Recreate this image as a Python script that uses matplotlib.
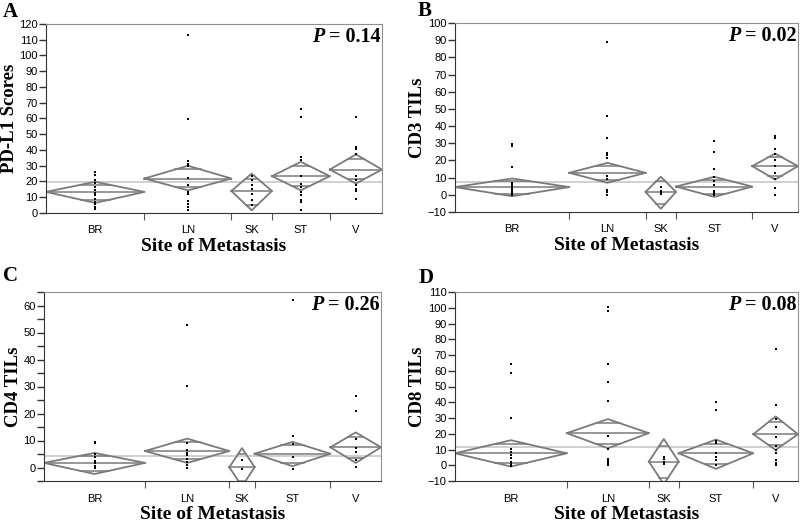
import numpy as np
import matplotlib.pyplot as plt
from matplotlib.ticker import MultipleLocator, FixedLocator

# sites of metastasis
sites = ["BR", "LN", "SK", "ST", "V"]

# ---- panel A: PD-L1 scores ----
pdl1_n = [17, 15, 7, 10, 9]
pdl1_points = [
    [26.1, 24.4, 20.8, 19.1, 16.6, 14.4, 12.7, 11.3, 9.1, 7.0, 5.5, 3.8, 2.3],
    [113.2, 59.7, 32.9, 31.4, 30.0, 22.5, 17.6, 13.4, 12.3, 7.4, 5.5, 3.8, 2.1],
    [23.6, 20.8, 17.6, 15.5, 12.3, 8.1, 5.3],
    [65.8, 61.2, 35.7, 33.6, 23.6, 18.7, 16.6, 13.4, 11.3, 8.5, 7.0, 2.1],
    [60.7, 42.0, 40.6, 37.2, 23.6, 20.8, 17.6, 15.5, 14.0, 8.7],
]
pdl1_mean = [13.4, 21.9, 14.0, 23.4, 27.6]
pdl1_low = [6.4, 14.4, 1.7, 14.4, 18.7]
pdl1_high = [19.8, 30.0, 25.0, 32.5, 37.2]
pdl1_grand = 19.7

# ---- panel B: CD3 TILs ----
cd3_n = [15, 10, 4, 10, 6]
cd3_points = [
    [29.5, 28.5, 16.0, 7.0, 6.0, 5.0, 4.0, 3.0, 2.0, 1.0, 0.0],
    [89.0, 46.0, 33.0, 24.5, 23.0, 21.5, 11.0, 9.0, 3.0, 1.5, 0.0],
    [4.7, 2.5, 1.5, 0.5],
    [31.2, 25.0, 15.3, 10.3, 8.0, 5.8, 2.5, 1.2, 0.0],
    [34.0, 33.0, 26.5, 23.5, 20.5, 16.5, 12.5, 9.0, 4.0, 0.0],
]
cd3_mean = [4.5, 12.8, 1.7, 4.8, 16.7]
cd3_low = [-0.8, 7.0, -8.1, -1.2, 8.9]
cd3_high = [9.5, 18.6, 10.5, 10.5, 24.0]
cd3_grand = 7.6

# ---- panel C: CD4 TILs ----
cd4_n = [12, 10, 3, 9, 6]
cd4_points = [
    [9.6, 9.0, 5.0, 4.0, 2.5, 1.5, 0.5, 0.0],
    [52.8, 30.2, 9.0, 6.3, 5.5, 4.5, 3.2, 2.2, 1.1, 0.0],
    [2.6, -0.5],
    [62.1, 11.7, 8.7, 3.9, -0.5],
    [26.6, 20.9, 10.7, 7.2, 5.7, 2.6, 0.1],
]
cd4_mean = [1.7, 6.1, 0.1, 5.1, 7.5]
cd4_low = [-2.4, 1.7, -7.0, 0.5, 1.7]
cd4_high = [5.4, 10.7, 7.2, 9.5, 13.0]
cd4_grand = 4.2

# ---- panel D: CD8 TILs ----
cd8_n = [15, 11, 4, 10, 6]
cd8_points = [
    [64.2, 58.5, 29.7, 10.2, 8.5, 6.6, 4.5, 2.3, 0.8, -0.4],
    [100.3, 97.7, 64.2, 52.8, 41.1, 18.7, 10.2, 4.0, 2.5, 1.3, 0.0],
    [5.5, 3.8, 2.3, 0.8],
    [39.9, 35.2, 15.3, 14.0, 7.6, 5.5, 3.4, 0.2],
    [73.8, 38.4, 29.3, 24.6, 18.2, 12.3, 9.8, 7.6, 3.4, 1.7, 0.0],
]
cd8_mean = [7.6, 20.4, 2.3, 7.6, 19.7]
cd8_low = [-0.8, 10.8, -12.0, -2.3, 9.7]
cd8_high = [15.9, 29.3, 16.7, 16.3, 31.0]
cd8_grand = 11.7

serif = "Liberation Serif"
sans = "Liberation Sans"
diamond_col = "#7a7a7a"


def draw_panel(ax, n, points, means, lows, highs, grand, ylim, minor, ylabel, pval):
    edges = np.concatenate([[0], np.cumsum(n)])
    centers = (edges[:-1] + edges[1:]) / 2
    ax.axhline(grand, color="#c8c8c8", lw=1.2, zorder=0)
    for i in range(len(n)):
        l, r, c = edges[i], edges[i + 1], centers[i]
        m, lo, hi = means[i], lows[i], highs[i]
        # means diamond
        ax.plot([l, c, r, c, l], [m, hi, m, lo, m], color=diamond_col, lw=1.3, zorder=2)
        ax.plot([l, r], [m, m], color=diamond_col, lw=1.1, zorder=2)
        # overlap marks
        w = (r - l) / 2 * (1 - 1 / np.sqrt(2))
        for y in (m + (hi - m) / np.sqrt(2), m - (m - lo) / np.sqrt(2)):
            ax.plot([c - w, c + w], [y, y], color=diamond_col, lw=1.1, zorder=2)
        ax.plot([c] * len(points[i]), points[i], "s", color="black",
                markersize=1.9, markeredgewidth=0, zorder=3)

    ax.set_xlim(edges[0], edges[-1])
    ax.set_ylim(*ylim)
    ax.yaxis.set_major_locator(MultipleLocator(10))
    if minor:
        ax.yaxis.set_minor_locator(MultipleLocator(5))
        ax.tick_params(axis="y", which="minor", length=5, width=1, color="#333333")
    ax.tick_params(axis="y", which="major", length=5, width=1, pad=1,
                   color="#333333", labelsize=8)
    # boundaries get the tick marks, centers get the labels
    ax.xaxis.set_major_locator(FixedLocator(edges[1:-1]))
    ax.xaxis.set_minor_locator(FixedLocator(centers))
    ax.set_xticklabels([], minor=False)
    ax.set_xticklabels(sites, minor=True)
    ax.tick_params(axis="x", which="major", length=5, width=0.8, color="#555555", direction="out")
    ax.tick_params(axis="x", which="minor", length=0, pad=9, labelsize=8)
    for lab in ax.get_xticklabels(minor=True) + ax.get_yticklabels():
        lab.set_fontfamily(sans)

    for s in ("top", "right"):
        ax.spines[s].set_color("#909090")
    for s in ("left", "bottom"):
        ax.spines[s].set_color("#333333")

    ax.set_xlabel("Site of Metastasis", fontfamily=serif, fontweight="bold",
                  fontsize=14, labelpad=2)
    ax.set_ylabel(ylabel, fontfamily=serif, fontweight="bold", fontsize=13.5, labelpad=1)

    t = ax.text(0.995, 0.985, "= " + pval, transform=ax.transAxes, ha="right", va="top",
                fontfamily=serif, fontweight="bold", fontsize=14.5)
    ax.annotate("P ", xy=(0, 0), xycoords=t, ha="right", va="bottom",
                fontfamily=serif, fontweight="bold", fontstyle="italic", fontsize=14.5)


fig = plt.figure(figsize=(8, 5.23), dpi=100)

W, H = 800, 523


def add_axes(x0, x1, y0, y1):
    return fig.add_axes([x0 / W, 1 - y1 / H, (x1 - x0) / W, (y1 - y0) / H])


axA = add_axes(46, 382, 24, 213)
axB = add_axes(455, 798, 23, 212)
axC = add_axes(44, 381, 292, 481)
axD = add_axes(455, 798, 292, 481)

draw_panel(axA, pdl1_n, pdl1_points, pdl1_mean, pdl1_low, pdl1_high, pdl1_grand,
           (0, 120), False, "PD-L1 Scores", "0.14")
draw_panel(axB, cd3_n, cd3_points, cd3_mean, cd3_low, cd3_high, cd3_grand,
           (-10, 100), False, "CD3 TILs", "0.02")
draw_panel(axC, cd4_n, cd4_points, cd4_mean, cd4_low, cd4_high, cd4_grand,
           (-5, 65), True, "CD4 TILs", "0.26")
draw_panel(axD, cd8_n, cd8_points, cd8_mean, cd8_low, cd8_high, cd8_grand,
           (-10, 110), False, "CD8 TILs", "0.08")

# panel letters
for letter, x, y in [("A", 3, 17), ("B", 418, 16), ("C", 3, 281), ("D", 419, 283)]:
    fig.text(x / W, 1 - y / H, letter, fontfamily=serif, fontweight="bold",
             fontsize=15, ha="left", va="baseline")

fig.savefig("out.png", dpi=100)
